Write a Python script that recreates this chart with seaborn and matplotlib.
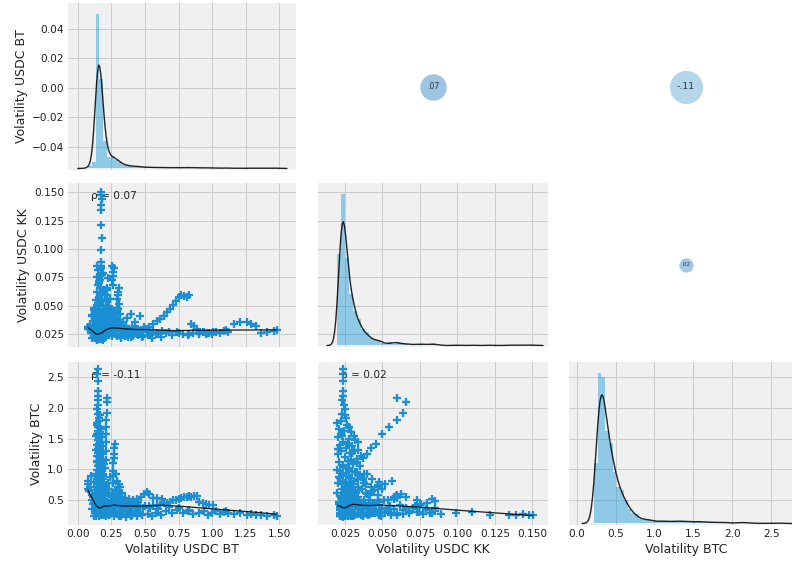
import numpy as np
import pandas as pd
import matplotlib
matplotlib.use("Agg")
import matplotlib.pyplot as plt
import seaborn as sns

# ---------------- data ----------------
labels = ["Volatility USDC BT", "Volatility USDC KK", "Volatility BTC"]
rho_bt_kk, rho_bt_btc, rho_kk_btc = 0.07, -0.11, 0.02

# core observations (value triplets with number of days each)
core_bt = [0.140, 0.145, 0.150, 0.155, 0.142, 0.158, 0.148, 0.153, 0.160, 0.138, 0.146, 0.156, 0.143, 0.151, 0.157, 0.139, 0.159, 0.147, 0.154,
           0.166, 0.172, 0.178, 0.168, 0.182, 0.175, 0.186, 0.170, 0.184, 0.164, 0.179, 0.188, 0.173, 0.187,
           0.195, 0.203, 0.210, 0.199, 0.214, 0.206, 0.197, 0.216, 0.201,
           0.225, 0.233, 0.240, 0.229, 0.244, 0.236, 0.222,
           0.252, 0.260, 0.268, 0.256, 0.271, 0.263,
           0.280, 0.290, 0.286, 0.298, 0.294,
           0.308, 0.318, 0.325, 0.313,
           0.336, 0.350, 0.344,
           0.365, 0.378, 0.372,
           0.395, 0.408,
           0.425, 0.445, 0.465, 0.485,
           0.115, 0.122, 0.128, 0.132,
           0.170, 0.190, 0.160, 0.210]
core_kk = [0.0212, 0.0238, 0.0218, 0.0230, 0.0262, 0.0218, 0.0245, 0.0348, 0.0292, 0.0268, 0.0312, 0.0315, 0.0228, 0.0255, 0.0340, 0.0290, 0.0288, 0.0222, 0.0228,
           0.0222, 0.0240, 0.0258, 0.0235, 0.0282, 0.0210, 0.0246, 0.0305, 0.0226, 0.0330, 0.0270, 0.0355, 0.0243, 0.0295,
           0.0232, 0.0256, 0.0385, 0.0217, 0.0318, 0.0242, 0.0242, 0.0268, 0.0265,
           0.0245, 0.0272, 0.0400, 0.0305, 0.0338, 0.0246, 0.0250,
           0.0238, 0.0266, 0.0372, 0.0298, 0.0330, 0.0268,
           0.0250, 0.0235, 0.0280, 0.0312, 0.0255,
           0.0345, 0.0375, 0.0226, 0.0295,
           0.0254, 0.0236, 0.0278,
           0.0395, 0.0262, 0.0224,
           0.0430, 0.0238,
           0.0360, 0.0240, 0.0410, 0.0232,
           0.0290, 0.0255, 0.0232, 0.0215,
           0.0360, 0.0400, 0.0440, 0.0480]
core_btc = [0.480, 0.340, 0.385, 0.290, 0.295, 0.340, 0.430, 0.390, 0.245, 0.250, 0.525, 0.435, 0.575, 0.620, 0.500, 0.665, 0.710, 0.560, 0.760,
            0.395, 0.345, 0.300, 0.255, 0.330, 0.445, 0.495, 0.290, 0.540, 0.400, 0.590, 0.455, 0.640, 0.690,
            0.310, 0.360, 0.415, 0.265, 0.470, 0.520, 0.570, 0.620, 0.720,
            0.320, 0.375, 0.280, 0.440, 0.510, 0.600, 0.780,
            0.300, 0.365, 0.250, 0.430, 0.495, 0.570,
            0.330, 0.280, 0.400, 0.470, 0.550,
            0.300, 0.370, 0.460, 0.520,
            0.320, 0.400, 0.480,
            0.285, 0.355, 0.450,
            0.300, 0.420,
            0.330, 0.470, 0.290, 0.380,
            0.560, 0.460, 0.360, 0.300,
            0.320, 0.300, 0.340, 0.310]
core_n = [25, 55, 50, 45, 35, 35, 30, 12, 22, 18, 16, 14, 12, 16, 8, 10, 8, 4, 5,
          28, 32, 36, 18, 20, 22, 15, 13, 11, 9, 7, 5, 7, 5,
          10, 10, 8, 7, 6, 5, 4, 3, 2,
          7, 6, 5, 4, 3, 2, 2,
          6, 5, 4, 3, 3, 2,
          5, 4, 4, 3, 2,
          4, 3, 3, 2,
          3, 3, 2,
          2, 2, 2,
          2, 2,
          2, 2, 2, 2,
          3, 3, 3, 3,
          6, 5, 4, 3]

# single-day observations
kk_spike_bt = [0.176, 0.174, 0.178, 0.177, 0.175, 0.176, 0.178, 0.175, 0.177]
kk_spike_kk = [0.1505, 0.1476, 0.1440, 0.1390, 0.1345, 0.1215, 0.1095, 0.0990, 0.0890]
kk_spike_btc = [0.270, 0.255, 0.280, 0.260, 0.270, 0.268, 0.310, 0.290, 0.280]

kk_cl_bt = [0.140, 0.176, 0.258, 0.268, 0.150, 0.172, 0.262, 0.180, 0.145, 0.266, 0.168, 0.160, 0.255]
kk_cl_kk = [0.0851, 0.0851, 0.0851, 0.0830, 0.0816, 0.0790, 0.0800, 0.0770, 0.0750, 0.0760, 0.0728, 0.0717, 0.0730]
kk_cl_btc = [0.38, 0.33, 0.49, 0.52, 0.30, 0.36, 0.45, 0.28, 0.42, 0.44, 0.50, 0.41, 0.31]

ub_bt = [0.150, 0.165, 0.185, 0.140, 0.200, 0.155, 0.175, 0.135, 0.215, 0.160, 0.190, 0.145, 0.230, 0.120, 0.170, 0.250, 0.205, 0.110]
ub_kk = [0.0680, 0.0660, 0.0640, 0.0620, 0.0600, 0.0580, 0.0560, 0.0550, 0.0540, 0.0520, 0.0500, 0.0490, 0.0480, 0.0460, 0.0450, 0.0440, 0.0420, 0.0410]
ub_btc = [0.32, 0.38, 0.28, 0.42, 0.30, 0.36, 0.26, 0.40, 0.33, 0.29, 0.37, 0.31, 0.27, 0.45, 0.35, 0.30, 0.40, 0.50]

kb_bt = [0.160, 0.185, 0.210, 0.150, 0.240, 0.175, 0.200, 0.265, 0.155, 0.225, 0.190, 0.170]
kb_kk = [0.0420, 0.0455, 0.0490, 0.0525, 0.0560, 0.0600, 0.0640, 0.0680, 0.0705, 0.0745, 0.0790, 0.0830]
kb_btc = [0.28, 0.33, 0.25, 0.36, 0.30, 0.27, 0.34, 0.29, 0.38, 0.31, 0.35, 0.30]

s3_bt = [0.298, 0.302, 0.296, 0.305, 0.300, 0.292, 0.290, 0.310]
s3_kk = [0.0625, 0.0595, 0.0562, 0.0517, 0.0473, 0.0428, 0.0395, 0.0660]
s3_btc = [0.600, 0.580, 0.820, 0.770, 0.720, 0.650, 0.600, 0.550]

dg_bt = [0.216, 0.218, 0.215, 0.214, 0.213, 0.212, 0.276, 0.272, 0.270, 0.268, 0.210, 0.212, 0.208, 0.205, 0.265, 0.260, 0.262]
dg_kk = [0.0600, 0.0657, 0.0639, 0.0600, 0.0546, 0.0495, 0.0457, 0.0421, 0.0394, 0.0368, 0.0340, 0.0310, 0.0290, 0.0270, 0.0330, 0.0300, 0.0280]
dg_btc = [2.16, 2.10, 1.92, 1.80, 1.68, 1.58, 1.42, 1.35, 1.25, 1.18, 1.45, 1.30, 1.15, 1.02, 1.10, 0.98, 0.90]

bs_bt = [0.151, 0.146, 0.150, 0.149, 0.152, 0.148, 0.153, 0.147, 0.151, 0.155]
bs_kk = [0.0236, 0.0240, 0.0238, 0.0235, 0.0240, 0.0233, 0.0245, 0.0250, 0.0230, 0.0255]
bs_btc = [2.62, 2.55, 2.43, 2.27, 2.19, 2.12, 2.05, 1.98, 1.90, 1.84]

col_bt = [0.140, 0.160, 0.145, 0.170, 0.150, 0.165, 0.138, 0.180, 0.155, 0.148, 0.172, 0.142, 0.185, 0.158, 0.135, 0.168, 0.152, 0.190,
          0.145, 0.162, 0.178, 0.140, 0.156, 0.195, 0.150, 0.166, 0.182, 0.143, 0.159, 0.175, 0.137, 0.188, 0.153, 0.170, 0.147,
          0.146, 0.162, 0.152, 0.178, 0.158, 0.144, 0.172, 0.150, 0.166, 0.160]
col_kk = [0.0200, 0.0225, 0.0262, 0.0210, 0.0245, 0.0290, 0.0230, 0.0205, 0.0275, 0.0318, 0.0240, 0.0215, 0.0300, 0.0255, 0.0340, 0.0222, 0.0285, 0.0202,
          0.0360, 0.0248, 0.0330, 0.0268, 0.0212, 0.0305, 0.0350, 0.0235, 0.0275, 0.0198, 0.0320, 0.0258, 0.0228, 0.0345, 0.0208, 0.0290, 0.0370,
          0.0222, 0.0270, 0.0205, 0.0300, 0.0238, 0.0330, 0.0215, 0.0280, 0.0252, 0.0310]
col_btc = [1.75, 1.78, 1.72, 1.65, 1.62, 1.60, 1.55, 1.52, 1.50, 1.47, 1.44, 1.40, 1.38, 1.35, 1.32, 1.30, 1.27, 1.25,
           1.22, 1.20, 1.17, 1.14, 1.12, 1.09, 1.06, 1.04, 1.01, 0.99, 0.96, 0.94, 0.92, 0.90, 0.88, 0.86, 0.84,
           1.58, 1.42, 1.33, 1.26, 1.07, 1.12, 0.97, 1.68, 1.88, 1.55]

# dense-region days
fill_bt = [0.095, 0.105, 0.112, 0.118, 0.125, 0.130, 0.100, 0.108, 0.122, 0.135,
           0.188, 0.195, 0.205, 0.212, 0.220, 0.228, 0.235, 0.242, 0.250, 0.258,
           0.265, 0.272, 0.280, 0.288, 0.295, 0.305, 0.312, 0.320, 0.330, 0.340,
           0.350, 0.362, 0.375, 0.390, 0.405, 0.420, 0.435, 0.450,
           0.145, 0.160, 0.175, 0.150, 0.185, 0.170, 0.155, 0.195, 0.140, 0.165,
           0.180, 0.150, 0.200, 0.145, 0.175, 0.160, 0.190, 0.155, 0.170, 0.140, 0.185, 0.165]
fill_kk = [0.0335, 0.0420, 0.0365, 0.0480, 0.0395, 0.0445, 0.0260, 0.0220, 0.0305, 0.0470,
           0.0430, 0.0455, 0.0390, 0.0470, 0.0365, 0.0440, 0.0495, 0.0355, 0.0410, 0.0470,
           0.0380, 0.0450, 0.0345, 0.0400, 0.0480, 0.0370, 0.0425, 0.0335, 0.0305, 0.0360,
           0.0290, 0.0320, 0.0300, 0.0280, 0.0310, 0.0295, 0.0275, 0.0300,
           0.0200, 0.0205, 0.0212, 0.0220, 0.0230, 0.0240, 0.0252, 0.0262, 0.0275, 0.0285,
           0.0300, 0.0312, 0.0325, 0.0338, 0.0350, 0.0362, 0.0378, 0.0390, 0.0402, 0.0415, 0.0375, 0.0330]
fill_btc = [0.72, 0.58, 0.44, 0.80, 0.30, 0.66, 0.90, 0.36, 0.25, 0.50,
            0.85, 0.33, 0.62, 0.74, 0.28, 0.45, 0.68, 0.88, 0.36, 0.58,
            0.78, 0.30, 0.66, 0.92, 0.42, 0.24, 0.72, 0.50, 0.62, 0.34,
            0.44, 0.28, 0.48, 0.38, 0.26, 0.45, 0.32, 0.40,
            0.62, 0.78, 0.45, 0.86, 0.68, 0.82, 0.72, 0.60, 0.80, 0.52,
            0.76, 0.64, 0.40, 0.84, 0.30, 0.68, 0.50, 0.76, 0.26, 0.44, 0.92, 0.96]

le_bt = [0.077, 0.078, 0.080, 0.085]
le_kk = [0.0310, 0.0305, 0.0300, 0.0295]
le_btc = [0.82, 0.76, 0.69, 0.65]

mb_bt = [0.320, 0.350, 0.380, 0.410, 0.440, 0.470, 0.495, 0.513, 0.530, 0.560, 0.590, 0.630]
mb_kk = [0.0280, 0.0265, 0.0290, 0.0270, 0.0300, 0.0285, 0.0310, 0.0295, 0.0280, 0.0270, 0.0265, 0.0275]
mb_btc = [0.560, 0.540, 0.520, 0.500, 0.520, 0.560, 0.610, 0.640, 0.600, 0.530, 0.530, 0.520]

tr_bt = [0.460, 0.500, 0.530, 0.560, 0.590, 0.615, 0.640, 0.665, 0.690, 0.710, 0.730, 0.750, 0.770, 0.790, 0.810, 0.825, 0.845, 0.865, 0.885]
tr_kk = [0.0280, 0.0300, 0.0315, 0.0340, 0.0365, 0.0385, 0.0410, 0.0445, 0.0475, 0.0510, 0.0540, 0.0575, 0.0600, 0.0585, 0.0580, 0.0592, 0.0340, 0.0320, 0.0300]
tr_btc = [0.400, 0.410, 0.400, 0.410, 0.420, 0.430, 0.450, 0.460, 0.480, 0.500, 0.510, 0.520, 0.540, 0.550, 0.560, 0.570, 0.560, 0.565, 0.575]

ft_bt = [0.905, 0.930, 0.955, 0.980, 1.005]
ft_kk = [0.026, 0.027, 0.025, 0.026, 0.027]
ft_btc = [0.470, 0.455, 0.445, 0.430, 0.420]

lb_bt = [0.32, 0.36, 0.40, 0.44, 0.48, 0.52, 0.55, 0.58, 0.62, 0.66, 0.70, 0.74, 0.78, 0.82, 0.86, 0.90, 0.94, 0.97, 1.00, 1.03,
         1.06, 1.09, 1.12, 1.16, 1.21, 1.26, 1.29, 1.33, 1.36, 1.41, 1.46, 1.48, 0.54, 0.60, 0.68, 0.75, 0.83, 1.10]
lb_kk = [0.022, 0.024, 0.023, 0.025, 0.023, 0.024, 0.022, 0.025, 0.023, 0.026, 0.024, 0.027, 0.025, 0.024, 0.026, 0.025, 0.027, 0.026, 0.025, 0.027,
         0.026, 0.028, 0.027, 0.034, 0.0355, 0.036, 0.034, 0.032, 0.026, 0.027, 0.028, 0.029, 0.026, 0.025, 0.027, 0.026, 0.025, 0.029]
lb_btc = [0.240, 0.222, 0.250, 0.240, 0.260, 0.280, 0.250, 0.300, 0.270, 0.320, 0.290, 0.340, 0.300, 0.330, 0.280, 0.300, 0.320, 0.270, 0.290, 0.320,
          0.280, 0.310, 0.300, 0.280, 0.290, 0.270, 0.280, 0.260, 0.260, 0.250, 0.270, 0.250, 0.380, 0.360, 0.390, 0.370, 0.350, 0.330]

groups = [
    (core_bt, core_kk, core_btc, core_n),
    (kk_spike_bt, kk_spike_kk, kk_spike_btc, None),
    (kk_cl_bt, kk_cl_kk, kk_cl_btc, None),
    (ub_bt, ub_kk, ub_btc, None),
    (kb_bt, kb_kk, kb_btc, None),
    (s3_bt, s3_kk, s3_btc, None),
    (dg_bt, dg_kk, dg_btc, None),
    (bs_bt, bs_kk, bs_btc, None),
    (col_bt, col_kk, col_btc, None),
    (fill_bt, fill_kk, fill_btc, None),
    (le_bt, le_kk, le_btc, None),
    (mb_bt, mb_kk, mb_btc, None),
    (tr_bt, tr_kk, tr_btc, None),
    (ft_bt, ft_kk, ft_btc, None),
    (lb_bt, lb_kk, lb_btc, None),
]
frames = []
for a, b, c, n in groups:
    assert len(a) == len(b) == len(c), (len(a), len(b), len(c))
    if n is not None:
        assert len(n) == len(a)
    frames.append(pd.DataFrame({labels[0]: a, labels[1]: b, labels[2]: c,
                                "n": n if n is not None else [1] * len(a)}))
df = pd.concat(frames, ignore_index=True)

# ---------------- style ----------------
sns.set_theme(style="whitegrid", rc={
    "axes.facecolor": "#f0f0f0", "figure.facecolor": "white",
    "grid.color": "#cbcbcb", "grid.linewidth": 1.0,
    "axes.edgecolor": "#f0f0f0", "axes.linewidth": 0,
    "xtick.major.size": 0, "ytick.major.size": 0,
    "text.color": "#222222", "axes.labelcolor": "#222222",
    "xtick.color": "#222222", "ytick.color": "#222222",
})
plt.rcParams["font.family"] = ["DejaVu Sans"]

W, H = 792, 562
fig = plt.figure(figsize=(W / 72, H / 72), dpi=72)
col_px = [(68, 296), (318, 548), (569, 803)]
row_px = [(3, 170), (183, 347), (362, 525)]

xlims = [(-0.0722, 1.624), (0.007, 0.1605), (-0.099, 2.909)]
xticks = [np.arange(0, 1.51, 0.25), np.arange(0.025, 0.151, 0.025), np.arange(0, 2.51, 0.5)]
ylims = [(-0.0556, 0.0576), (0.0138, 0.1582), (0.10, 2.741)]
yticks = [np.arange(-0.04, 0.041, 0.02), np.arange(0.025, 0.151, 0.025), np.arange(0.5, 2.51, 0.5)]

point_color = "#1a8fd3"
hist_color = "#008fd5"
rhos = {(1, 0): rho_bt_kk, (2, 0): rho_bt_btc, (2, 1): rho_kk_btc}
dot_colors = {(0, 1): "#9dc5e1", (0, 2): "#b3d6eb", (1, 2): "#a2c8e3"}
bw_adj = [0.3, 0.35, 0.35]


def _local(x0, x, y, base_w, wt, frac):
    d = np.abs(x - x0)
    order = np.argsort(d)
    cw = np.cumsum(base_w[order])
    k = min(np.searchsorted(cw, frac * base_w.sum()), len(x) - 1)
    h = max(d[order[k]], 1e-9) * 1.001
    u = d / h
    kw = np.clip(1 - u ** 3, 0, None) ** 3 * wt
    sw = kw.sum()
    mx = (kw * x).sum() / sw
    my = (kw * y).sum() / sw
    vx = (kw * (x - mx) ** 2).sum()
    b = (kw * (x - mx) * (y - my)).sum() / vx if vx > 0 else 0.0
    return my + b * (x0 - mx)


def weighted_lowess(x, y, w, frac=2 / 3, iters=3):
    x = np.asarray(x, float); y = np.asarray(y, float); w = np.asarray(w, float)
    rob = np.ones(len(x))
    for _ in range(iters):
        fit = np.array([_local(xi, x, y, w, w * rob, frac) for xi in x])
        res = y - fit
        s = np.median(np.abs(res))
        u = res / (6 * s + 1e-12)
        rob = np.clip(1 - u ** 2, 0, None) ** 2
    grid = np.unique(x)
    return grid, np.array([_local(g, x, y, w, w * rob, frac) for g in grid])


axes = {}
for r in range(3):
    for c in range(3):
        l, rr = col_px[c]
        t, b = row_px[r]
        axes[(r, c)] = fig.add_axes([l / W, 1 - b / H, (rr - l) / W, (b - t) / H])

for r in range(3):
    for c in range(3):
        ax = axes[(r, c)]
        if r < c:
            ax.set_axis_off()
            rv = rhos[(c, r)]
            ax.scatter([0.5], [0.5], s=abs(rv) * 10000, color=dot_colors[(r, c)],
                       transform=ax.transAxes, linewidths=0)
            txt = f"{rv:2.2f}".replace("0.", ".")
            ax.annotate(txt, (0.5, 0.5), xycoords="axes fraction", ha="center",
                        va="center", fontsize=abs(rv) * 40 + 5, color="#333333")
            continue
        if r == c:
            tw = ax.twinx()
            v = df[labels[c]]
            sns.histplot(x=v, weights=df["n"], bins=50, stat="density", color=hist_color,
                         alpha=0.4, linewidth=0, ax=tw)
            sns.kdeplot(x=v, weights=df["n"], bw_adjust=bw_adj[c], cut=3, color="black",
                        lw=1.4, alpha=0.85, ax=tw)
            top = max(p.get_height() for p in tw.patches)
            tw.set_ylim(-0.01 * top, top * 1.07)
            tw.set_axis_off()
        else:
            xv = df[labels[c]]; yv = df[labels[r]]
            ax.annotate(f"\u03c1 = {rhos[(r, c)]:.2f}", xy=(0.1, 0.9), xycoords="axes fraction",
                        fontsize=10.5, zorder=1)
            sns.scatterplot(x=xv, y=yv, marker="+", s=75, linewidth=2.3, color=point_color,
                            ax=ax, zorder=2, legend=False)
            gx, gy = weighted_lowess(xv, yv, df["n"])
            ax.plot(gx, gy, color="black", lw=1.3, alpha=0.85, zorder=3)
        ax.set_xticks(xticks[c])
        ax.set_yticks(yticks[r])
        ax.set_xlim(*xlims[c])
        ax.set_ylim(*ylims[r])
        ax.grid(True, color="#cbcbcb", lw=1.0)
        ax.tick_params(labelsize=10.5, length=0, pad=4)
        if c == 0:
            ax.set_ylabel(labels[r], fontsize=12.5)
        else:
            ax.set_ylabel("")
            ax.tick_params(labelleft=False)
        if r == 2:
            ax.set_xlabel(labels[c], fontsize=12.5)
        else:
            ax.set_xlabel("")
            ax.tick_params(labelbottom=False)

fig.savefig("out.png", dpi=72, facecolor="white")
